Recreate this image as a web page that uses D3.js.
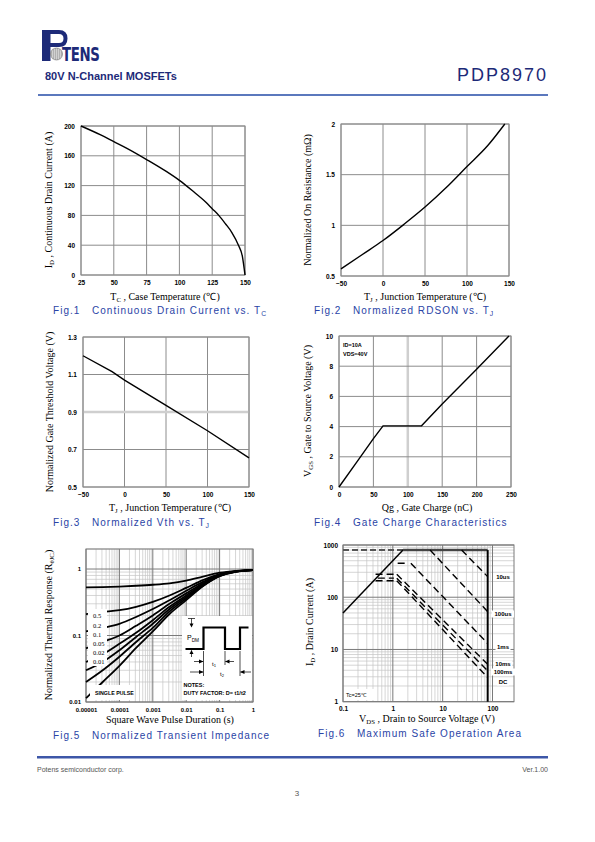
<!DOCTYPE html>
<html><head><meta charset="utf-8">
<script src="https://cdn.jsdelivr.net/npm/d3@7"></script>
<style>body{margin:0;background:#fff} svg{display:block} text{white-space:pre}</style>
</head><body>
<svg id="page" width="595" height="842"></svg>
<script>
// ---------------- DATA ----------------
// Fig.1 Continuous drain current vs case temperature
const fig1XTicks = [25, 50, 75, 100, 125, 150];
const fig1YTicks = [0, 40, 80, 120, 160, 200];
const fig1Temp = [25, 40, 50, 60, 75, 90, 100, 110, 120, 125, 130, 135, 140, 145, 148, 150];
const fig1Current = [200, 188, 179, 170, 155, 139, 127, 113, 98, 89, 80, 69, 57, 40, 25, 0];
// Fig.2 Normalized RDSON vs Tj
const fig2XTicks = [-50, 0, 50, 100, 150];
const fig2YTicks = [0.5, 1, 1.5, 2];
const fig2Temp = [-50, -25, 0, 25, 50, 75, 100, 125, 145];
const fig2Rdson = [0.57, 0.71, 0.85, 1.01, 1.18, 1.37, 1.58, 1.79, 2.0];
// Fig.3 Normalized Vth vs Tj
const fig3XTicks = [-50, 0, 50, 100, 150];
const fig3YTicks = [0.5, 0.7, 0.9, 1.1, 1.3];
const fig3Temp = [-50, -15, 0, 50, 100, 150];
const fig3Vth = [1.2, 1.115, 1.07, 0.935, 0.8, 0.655];
// Fig.4 Gate charge
const fig4XTicks = [0, 50, 100, 150, 200, 250];
const fig4YTicks = [0, 2, 4, 6, 8, 10];
const fig4Qg = [0, 25, 50, 64, 120, 150, 200, 247];
const fig4Vgs = [0, 1.6, 3.2, 4.05, 4.05, 5.5, 7.8, 10];
// Fig.5 Transient thermal impedance
const fig5XTicks = [0.00001, 0.0001, 0.001, 0.01, 0.1, 1];
const fig5XLabels = ["0.00001", "0.0001", "0.001", "0.01", "0.1", "1"];
const fig5YTicks = [0.01, 0.1, 1];
const fig5YLabels = ["0.01", "0.1", "1"];
const fig5Duty = ["0.5", "0.2", "0.1", "0.05", "0.02", "0.01"];
const fig5Time = [1e-5, 3.16e-5, 1e-4, 3.16e-4, 1e-3, 3.16e-3, 1e-2, 3.16e-2, 0.1, 0.316, 1];
const fig5CurveA = [0.53, 0.535, 0.545, 0.56, 0.58, 0.61, 0.67, 0.77, 0.88, 0.94, 0.965];
const fig5CurveB = [0.21, 0.225, 0.24, 0.27, 0.32, 0.40, 0.52, 0.68, 0.84, 0.93, 0.965];
const fig5CurveC = [0.115, 0.13, 0.15, 0.19, 0.25, 0.34, 0.47, 0.64, 0.82, 0.925, 0.965];
const fig5CurveD = [0.064, 0.08, 0.10, 0.14, 0.20, 0.30, 0.43, 0.61, 0.81, 0.92, 0.965];
const fig5CurveE = [0.040, 0.052, 0.075, 0.11, 0.17, 0.27, 0.40, 0.59, 0.80, 0.92, 0.965];
const fig5CurveF = [0.030, 0.040, 0.060, 0.095, 0.15, 0.25, 0.38, 0.57, 0.79, 0.915, 0.965];
const fig5CurveG = [0.020, 0.030, 0.048, 0.08, 0.13, 0.23, 0.36, 0.56, 0.785, 0.915, 0.965];
const fig5Single = [0.0114, 0.020, 0.035, 0.065, 0.115, 0.21, 0.34, 0.55, 0.78, 0.91, 0.965];
// Fig.6 Safe operating area
const fig6XTicks = [0.1, 1, 10, 100];
const fig6XLabels = ["0.1", "1", "10", "100"];
const fig6YTicks = [1, 10, 100, 1000];
const fig6YLabels = ["1", "10", "100", "1000"];
const soaRdsV = [0.1, 1.6];
const soaRdsI = [50, 800];
const soaTopV = [1.6, 80];
const soaTopI = [800, 800];
const soaDashTopV = [0.1, 1.6];
const soaDashTopI = [800, 800];
const soaVmaxV = [80, 80];
const soaVmaxI = [800, 1];
const soa10usV = [24, 80];
const soa10usI = [800, 248];
const soa100usV = [5.6, 80];
const soa100usI = [800, 53];
const soa1msV = [1.25, 1.9, null, 2.3, 80];
const soa1msI = [447, 447, null, 447, 13];
const soa10msV = [0.45, 1.05, null, 1.2, 80];
const soa10msI = [275, 275, null, 275, 5.2];
const soa100msV = [0.5, 1.05, null, 1.2, 80];
const soa100msI = [232, 232, null, 232, 3.9];
const soaDCV = [0.45, 1.05, null, 1.2, 80];
const soaDCI = [207, 207, null, 207, 2.9];
const soaLabels = ["10us", "100us", "1ms", "10ms", "100ms", "DC"];

// ---------------- HELPERS ----------------
const svg = d3.select('#page');
const NAVY = '#1d2a78';
const CAPC = '#2a44a6';
const SERIF = "'Liberation Serif','Times New Roman',serif";
const SANS = "'Liberation Sans',Arial,sans-serif";
const GRID = '#8c8c8c';

function rich(sel, parts, size) {
  let shift = 0;
  parts.forEach(p => {
    const s = typeof p === 'string' ? p : p[0];
    const sub = typeof p !== 'string';
    const t = sel.append('tspan').text(s);
    if (sub) {
      t.attr('font-size', size * 0.68).attr('dy', size * 0.22 - shift);
      shift = size * 0.22;
    } else if (shift) {
      t.attr('dy', -shift); shift = 0;
    }
  });
  return sel;
}
function text(x, y, parts, o = {}) {
  const size = o.size || 10;
  const t = svg.append('text').attr('x', x).attr('y', y)
    .attr('font-family', o.family || SERIF).attr('font-size', size)
    .attr('fill', o.fill || '#000').attr('text-anchor', o.anchor || 'start');
  if (o.weight) t.attr('font-weight', o.weight);
  if (o.ls) t.attr('letter-spacing', o.ls);
  if (o.rotate) t.attr('transform', `rotate(-90,${x},${y})`);
  rich(t, parts, size);
  return t;
}
function caption(x, y, parts) {
  return text(x, y, parts, {family: SANS, size: 10, fill: CAPC, ls: 1.05});
}
function styleTicks(sel) {
  sel.select('.domain').remove();
  sel.selectAll('text').attr('font-family', SANS).attr('font-size', 6.5)
    .attr('font-weight', 'bold').attr('fill', '#000');
}

function linChart(o) {
  const x = d3.scaleLinear().domain(o.xd).range([o.l, o.r]);
  const y = d3.scaleLinear().domain(o.yd).range([o.b, o.t]);
  const g = svg.append('g');
  o.xt.forEach(v => {
    const light = v === o.lightX;
    g.append('line').attr('x1', x(v)).attr('x2', x(v)).attr('y1', o.t).attr('y2', o.b)
      .attr('stroke', light ? '#cfcfcf' : GRID).attr('stroke-width', light ? 2.5 : 1);
  });
  o.yt.forEach(v => {
    const light = v === o.lightY;
    g.append('line').attr('y1', y(v)).attr('y2', y(v)).attr('x1', o.l).attr('x2', o.r)
      .attr('stroke', light ? '#cfcfcf' : GRID).attr('stroke-width', light ? 2.5 : 1);
  });
  g.append('rect').attr('x', o.l).attr('y', o.t).attr('width', o.r - o.l).attr('height', o.b - o.t)
    .attr('fill', 'none').attr('stroke', GRID);
  g.append('g').attr('transform', `translate(0,${o.b})`)
    .call(d3.axisBottom(x).tickValues(o.xt).tickSize(0).tickPadding(5).tickFormat(o.xf || d3.format('d')))
    .call(styleTicks);
  g.append('g').attr('transform', `translate(${o.l},0)`)
    .call(d3.axisLeft(y).tickValues(o.yt).tickSize(0).tickPadding(6).tickFormat(o.yf || d3.format('d')))
    .call(styleTicks);
  const pts = o.xs.map((v, i) => [v, o.ys[i]]);
  g.append('path').datum(pts)
    .attr('d', d3.line().x(d => x(d[0])).y(d => y(d[1])).curve(o.curve || d3.curveLinear))
    .attr('fill', 'none').attr('stroke', '#000').attr('stroke-width', 1.4);
  return {x, y, g};
}

// ---------------- HEADER ----------------
(function header() {
  const g = svg.append('g');
  g.append('rect').attr('x', 42).attr('y', 30).attr('width', 8.5).attr('height', 31).attr('fill', NAVY);
  g.append('path').attr('d', 'M50,32 H59 Q65.5,32 65.5,38.5 Q65.5,45 59,45 H50')
    .attr('fill', 'none').attr('stroke', NAVY).attr('stroke-width', 4);
  g.append('circle').attr('cx', 56.5).attr('cy', 54).attr('r', 6).attr('fill', '#9a9a9a');
  for (let k = -4; k <= 4; k += 2) {
    g.append('line').attr('x1', 50.5).attr('x2', 62.5).attr('y1', 54 + k).attr('y2', 54 + k).attr('stroke', '#e8e8e8').attr('stroke-width', 0.6);
    g.append('line').attr('y1', 48).attr('y2', 60).attr('x1', 56.5 + k).attr('x2', 56.5 + k).attr('stroke', '#e8e8e8').attr('stroke-width', 0.6);
  }
  g.append('circle').attr('cx', 56.5).attr('cy', 54).attr('r', 6).attr('fill', 'none').attr('stroke', '#777').attr('stroke-width', 0.6);
  g.append('text').attr('x', 0).attr('y', 0).attr('transform', 'translate(62,61) scale(0.78,1)')
    .attr('font-family', "'DejaVu Sans Condensed','DejaVu Sans',sans-serif").attr('font-weight', 'bold')
    .attr('font-size', 19).attr('fill', NAVY).attr('letter-spacing', -0.5).text('TENS');
  text(45, 80, ['80V N-Channel MOSFETs'], {family: SANS, size: 11, weight: 'bold', fill: NAVY});
  text(548, 81, ['PDP8970'], {family: SANS, size: 18, fill: NAVY, anchor: 'end', ls: 2});
  svg.append('rect').attr('x', 38).attr('y', 94).attr('width', 510).attr('height', 2).attr('fill', '#5b78bd');
})();

// ---------------- FIG 1 ----------------
linChart({l: 81, r: 245, t: 126, b: 275, xd: [25, 150], yd: [0, 200], xt: fig1XTicks, yt: fig1YTicks,
  xs: fig1Temp, ys: fig1Current, curve: d3.curveMonotoneX});
text(52, 200, ['I', ['D'], ' , Continuous Drain Current (A)'], {rotate: true, anchor: 'middle'});
text(165, 300, ['T', ['C'], ' , Case Temperature (℃)'], {anchor: 'middle'});
caption(53, 314, ['Fig.1   Continuous Drain Current vs. T', ['C']]);

// ---------------- FIG 2 ----------------
linChart({l: 341, r: 509, t: 124, b: 276, xd: [-50, 150], yd: [0.5, 2], xt: fig2XTicks, yt: fig2YTicks,
  xs: fig2Temp, ys: fig2Rdson, curve: d3.curveMonotoneX, yf: d3.format('')});
text(311, 200, ['Normalized On Resistance (mΩ)'], {rotate: true, anchor: 'middle'});
text(425, 300, ['T', ['J'], ' , Junction Temperature (℃)'], {anchor: 'middle'});
caption(314, 314, ['Fig.2   Normalized RDSON vs. T', ['J']]);

// ---------------- FIG 3 ----------------
linChart({l: 83, r: 249, t: 337, b: 487, xd: [-50, 150], yd: [0.5, 1.3], xt: fig3XTicks, yt: fig3YTicks,
  xs: fig3Temp, ys: fig3Vth, lightY: 0.9, yf: d3.format('.1f')});
text(53, 412, ['Normalized Gate Threshold Voltage (V)'], {rotate: true, anchor: 'middle'});
text(170, 511, ['T', ['J'], ' , Junction Temperature (℃)'], {anchor: 'middle'});
caption(53, 526, ['Fig.3   Normalized Vth vs. T', ['J']]);

// ---------------- FIG 4 ----------------
linChart({l: 339, r: 511, t: 336, b: 487, xd: [0, 250], yd: [0, 10], xt: fig4XTicks, yt: fig4YTicks,
  xs: fig4Qg, ys: fig4Vgs, lightX: 100});
text(343, 347, ['ID=10A'], {family: SANS, size: 5.5, weight: 'bold'});
text(343, 356, ['VDS=40V'], {family: SANS, size: 5.5, weight: 'bold'});
text(311, 411, ['V', ['GS'], ' , Gate to Source Voltage (V)'], {rotate: true, anchor: 'middle'});
text(427, 511, ['Qg , Gate Charge (nC)'], {anchor: 'middle'});
caption(314, 526, ['Fig.4   Gate Charge Characteristics']);

// ---------------- LOG GRID HELPER ----------------
function logGrid(g, x, y, xMin, xMax, yMin, yMax, l, r, t, b) {
  const minorX = [], majorX = [], minorY = [], majorY = [];
  for (let e = Math.floor(Math.log10(xMin)); e < Math.log10(xMax); e++) {
    for (let m = 1; m <= 9; m++) {
      const v = m * Math.pow(10, e);
      if (v < xMin * 0.999 || v > xMax * 1.001) continue;
      (m === 1 ? majorX : minorX).push(v);
    }
  }
  if (Math.abs(Math.log10(xMax) % 1) < 1e-9) majorX.push(xMax);
  for (let e = Math.floor(Math.log10(yMin)); e < Math.log10(yMax); e++) {
    for (let m = 1; m <= 9; m++) {
      const v = m * Math.pow(10, e);
      if (v < yMin * 0.999 || v > yMax * 1.001) continue;
      (m === 1 ? majorY : minorY).push(v);
    }
  }
  if (Math.abs(Math.log10(yMax) % 1) < 1e-9) majorY.push(yMax);
  minorX.forEach(v => g.append('line').attr('x1', x(v)).attr('x2', x(v)).attr('y1', t).attr('y2', b).attr('stroke', '#c4c4c4').attr('stroke-width', 0.7));
  minorY.forEach(v => g.append('line').attr('y1', y(v)).attr('y2', y(v)).attr('x1', l).attr('x2', r).attr('stroke', '#c4c4c4').attr('stroke-width', 0.7));
  majorX.forEach(v => g.append('line').attr('x1', x(v)).attr('x2', x(v)).attr('y1', t).attr('y2', b).attr('stroke', '#7a7a7a').attr('stroke-width', 1));
  majorY.forEach(v => g.append('line').attr('y1', y(v)).attr('y2', y(v)).attr('x1', l).attr('x2', r).attr('stroke', '#7a7a7a').attr('stroke-width', 1));
}

// ---------------- FIG 5 ----------------
(function fig5() {
  const l = 86, r = 253, t = 549, b = 702;
  const x = d3.scaleLog().domain([1e-5, 1]).range([l, r]);
  const y = d3.scaleLog().domain([0.01, 2]).range([b, t]);
  const g = svg.append('g');
  logGrid(g, x, y, 1e-5, 1, 0.01, 2, l, r, t, b);
  g.append('rect').attr('x', l).attr('y', t).attr('width', r - l).attr('height', b - t).attr('fill', 'none').attr('stroke', '#7a7a7a');
  g.append('g').attr('transform', `translate(0,${b})`)
    .call(d3.axisBottom(x).tickValues(fig5XTicks).tickSize(0).tickPadding(6).tickFormat((d, i) => fig5XLabels[i]))
    .call(styleTicks);
  g.append('g').attr('transform', `translate(${l},0)`)
    .call(d3.axisLeft(y).tickValues(fig5YTicks).tickSize(0).tickPadding(5).tickFormat((d, i) => fig5YLabels[i]))
    .call(styleTicks);
  g.selectAll('.tick text').attr('font-size', 6);
  const line = d3.line().x(d => x(d[0])).y(d => y(d[1])).curve(d3.curveMonotoneX);
  [fig5CurveA, fig5CurveB, fig5CurveC, fig5CurveD, fig5CurveE, fig5CurveF, fig5CurveG, fig5Single].forEach(c => {
    g.append('path').datum(fig5Time.map((tv, i) => [tv, c[i]])).attr('d', line)
      .attr('fill', 'none').attr('stroke', '#000').attr('stroke-width', 1.8);
  });
  // label box
  g.append('rect').attr('x', 88).attr('y', 609).attr('width', 19).attr('height', 57).attr('fill', '#fff');
  const ly = [618, 628, 636.5, 646, 655, 664];
  fig5Duty.forEach((d, i) => text(93, ly[i], [d], {size: 6.5}));
  g.append('rect').attr('x', 90).attr('y', 685).attr('width', 44).attr('height', 15).attr('fill', '#fff');
  text(95, 695, ['SINGLE PULSE'], {family: SANS, size: 5.3, weight: 'bold'});
  // inset diagram
  const ins = svg.append('g');
  ins.append('rect').attr('x', 182).attr('y', 616).attr('width', 70).attr('height', 84).attr('fill', '#fff');
  ins.append('path').attr('d', 'M185.5,649 H203.5 V627.5 H225 V649 H240 V627.5 H248.5')
    .attr('fill', 'none').attr('stroke', '#000').attr('stroke-width', 2.2);
  const k = '#000';
  ins.append('line').attr('x1', 188).attr('x2', 195).attr('y1', 618.5).attr('y2', 618.5).attr('stroke', k).attr('stroke-width', 0.7);
  ins.append('line').attr('x1', 191.5).attr('x2', 191.5).attr('y1', 618.5).attr('y2', 626).attr('stroke', k).attr('stroke-width', 0.7);
  ins.append('path').attr('d', 'M189.5,623.5 L191.5,627.5 L193.5,623.5 Z').attr('fill', k);
  ins.append('line').attr('x1', 191.5).attr('x2', 191.5).attr('y1', 650.5).attr('y2', 657).attr('stroke', k).attr('stroke-width', 0.7);
  ins.append('path').attr('d', 'M189.5,654 L191.5,650 L193.5,654 Z').attr('fill', k);
  text(187, 640, ['P', ['DM']], {family: SANS, size: 7});
  ins.append('line').attr('x1', 203.5).attr('x2', 203.5).attr('y1', 651).attr('y2', 676).attr('stroke', k).attr('stroke-width', 0.7);
  ins.append('line').attr('x1', 225).attr('x2', 225).attr('y1', 651).attr('y2', 665).attr('stroke', k).attr('stroke-width', 0.7);
  ins.append('line').attr('x1', 240).attr('x2', 240).attr('y1', 651).attr('y2', 676).attr('stroke', k).attr('stroke-width', 0.7);
  ins.append('line').attr('x1', 194).attr('x2', 203).attr('y1', 661.5).attr('y2', 661.5).attr('stroke', k).attr('stroke-width', 0.7);
  ins.append('path').attr('d', 'M199,659.5 L203.5,661.5 L199,663.5 Z').attr('fill', k);
  ins.append('line').attr('x1', 225.5).attr('x2', 234).attr('y1', 661.5).attr('y2', 661.5).attr('stroke', k).attr('stroke-width', 0.7);
  ins.append('path').attr('d', 'M229.5,659.5 L225,661.5 L229.5,663.5 Z').attr('fill', k);
  ins.append('line').attr('x1', 190).attr('x2', 203).attr('y1', 672).attr('y2', 672).attr('stroke', k).attr('stroke-width', 0.7);
  ins.append('path').attr('d', 'M199,670 L203.5,672 L199,674 Z').attr('fill', k);
  ins.append('line').attr('x1', 240.5).attr('x2', 251).attr('y1', 672).attr('y2', 672).attr('stroke', k).attr('stroke-width', 0.7);
  ins.append('path').attr('d', 'M244.5,670 L240,672 L244.5,674 Z').attr('fill', k);
  text(212, 666, ['t', ['1']], {family: SANS, size: 6});
  text(220, 676, ['t', ['2']], {family: SANS, size: 6});
  text(183.5, 686.5, ['NOTES:'], {family: SANS, size: 5.5, weight: 'bold'});
  text(183.5, 694.5, ['DUTY FACTOR: D= t1/t2'], {family: SANS, size: 5.5, weight: 'bold'});
  text(52, 625, ['Normalized Thermal Response (R', ['θJC'], ')'], {rotate: true, anchor: 'middle'});
  text(170, 723, ['Square Wave Pulse Duration (s)'], {anchor: 'middle'});
  caption(53, 739, ['Fig.5   Normalized Transient Impedance']);
})();

// ---------------- FIG 6 ----------------
(function fig6() {
  const l = 343, r = 514, t = 545, b = 701.7;
  const x = d3.scaleLog().domain([0.1, 270]).range([l, r]);
  const y = d3.scaleLog().domain([1, 1000]).range([b, t]);
  const g = svg.append('g');
  logGrid(g, x, y, 0.1, 100, 1, 1000, l, r, t, b);
  g.append('rect').attr('x', l).attr('y', t).attr('width', r - l).attr('height', b - t).attr('fill', 'none').attr('stroke', '#7a7a7a');
  g.append('g').attr('transform', `translate(0,${b})`)
    .call(d3.axisBottom(x).tickValues(fig6XTicks).tickSize(0).tickPadding(5).tickFormat((d, i) => fig6XLabels[i]))
    .call(styleTicks);
  g.append('g').attr('transform', `translate(${l},0)`)
    .call(d3.axisLeft(y).tickValues(fig6YTicks).tickSize(0).tickPadding(5).tickFormat((d, i) => fig6YLabels[i]))
    .call(styleTicks);
  const line = d3.line().defined(d => d[0] !== null).x(d => x(d[0])).y(d => y(d[1]));
  const draw = (vs, is, w, dash, col) => g.append('path').datum(vs.map((v, i) => [v, is[i]])).attr('d', line)
    .attr('fill', 'none').attr('stroke', col || '#000').attr('stroke-width', w).attr('stroke-dasharray', dash || null);
  draw(soaDashTopV, soaDashTopI, 2, '6,3', '#555');
  draw(soaRdsV, soaRdsI, 1.5);
  draw(soaTopV, soaTopI, 2.5, null, '#444');
  draw(soaVmaxV, soaVmaxI, 2);
  [[soa10usV, soa10usI], [soa100usV, soa100usI], [soa1msV, soa1msI], [soa10msV, soa10msI], [soa100msV, soa100msI], [soaDCV, soaDCI]]
    .forEach(([vs, is]) => draw(vs, is, 1.4, '7,4'));
  const ly = [579, 616, 649, 666, 674, 684];
  const lw = [16, 20, 13, 16, 22, 10];
  soaLabels.forEach((s, i) => {
    g.append('rect').attr('x', 503 - lw[i] / 2 - 1).attr('y', ly[i] - 5.5).attr('width', lw[i] + 2).attr('height', 7).attr('fill', '#fff');
  });
  soaLabels.forEach((s, i) => text(503, ly[i], [s], {family: SANS, size: 6, weight: 'bold', anchor: 'middle'}));
  g.append('rect').attr('x', 344).attr('y', 689).attr('width', 30).attr('height', 11).attr('fill', '#fff');
  text(346, 697, ['Tc=25℃'], {family: SANS, size: 5.5});
  text(313, 622, ['I', ['D'], ' , Drain Current (A)'], {rotate: true, anchor: 'middle'});
  text(427, 722, ['V', ['DS'], ' , Drain to Source Voltage (V)'], {anchor: 'middle'});
  caption(318, 737, ['Fig.6   Maximum Safe Operation Area']);
})();

// ---------------- FOOTER ----------------
svg.append('rect').attr('x', 37).attr('y', 756).attr('width', 511).attr('height', 2.5).attr('fill', '#3d57a8');
text(37, 772, ['Potens semiconductor corp.'], {family: SANS, size: 7, fill: '#555'});
text(548, 772, ['Ver.1.00'], {family: SANS, size: 7, fill: '#555', anchor: 'end'});
text(297, 796, ['3'], {family: SANS, size: 8, fill: '#555', anchor: 'middle'});
</script>
</body></html>
